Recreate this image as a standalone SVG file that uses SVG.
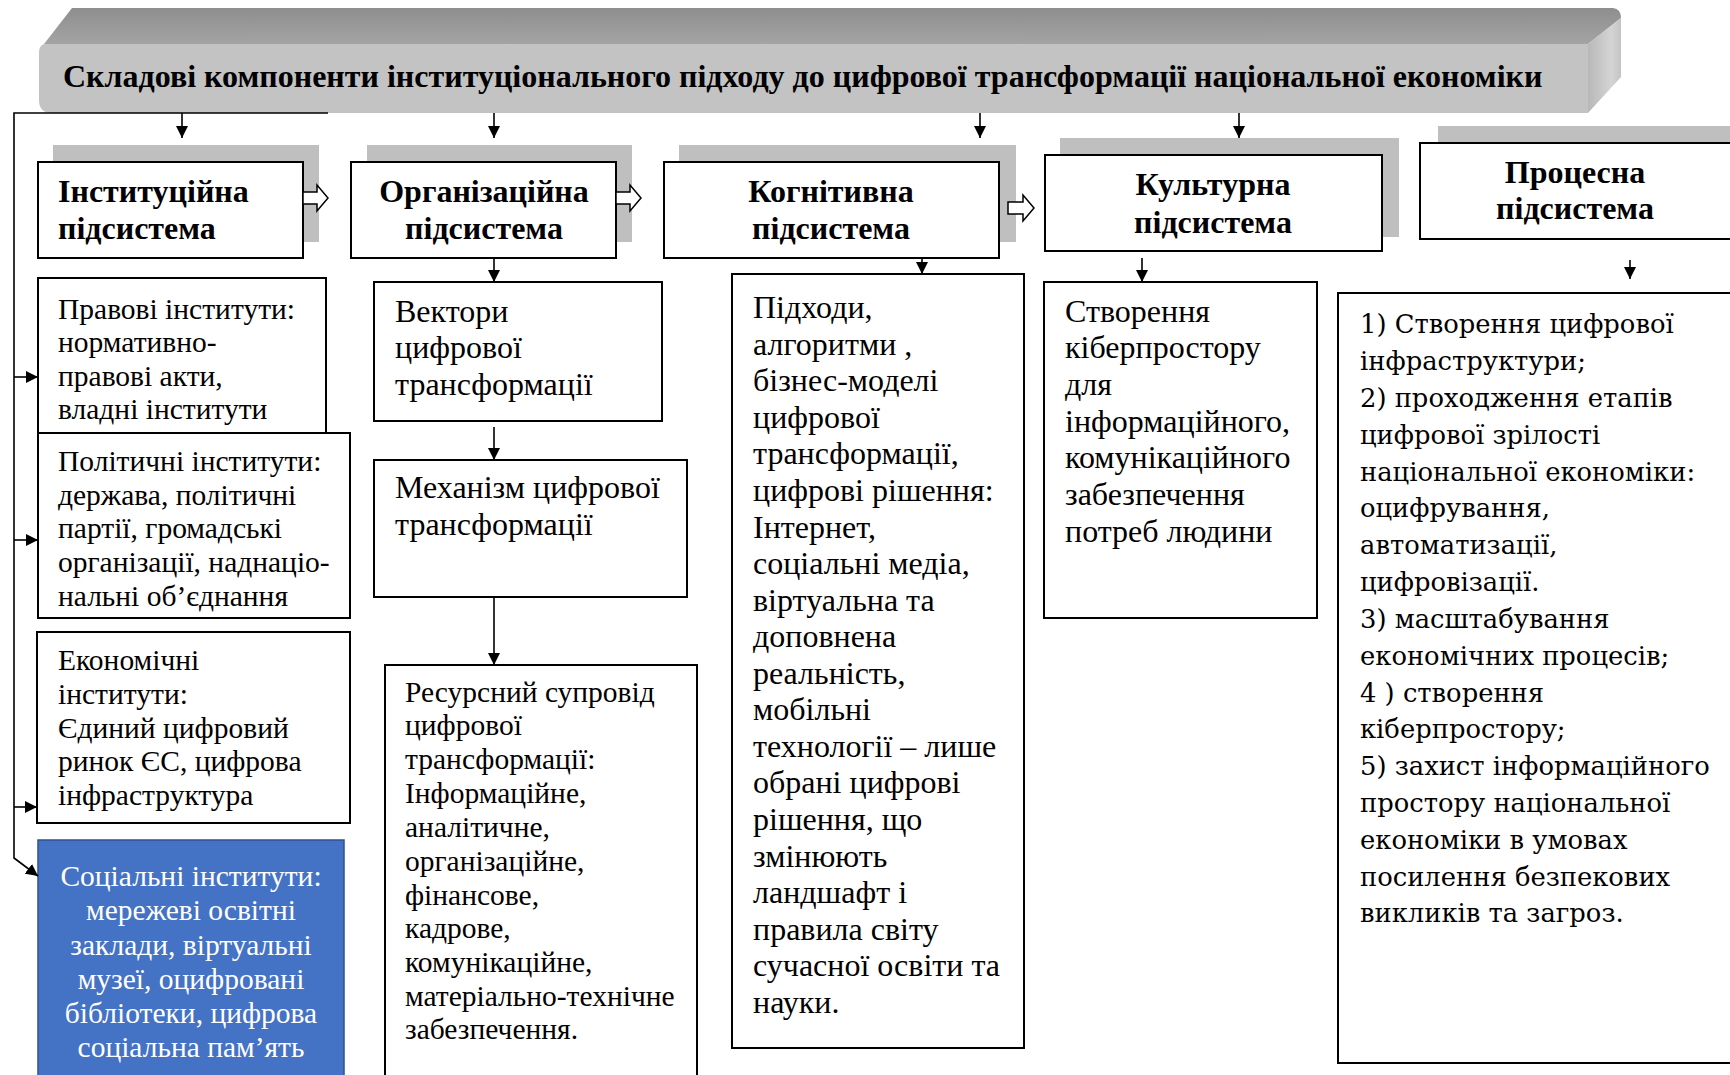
<svg xmlns="http://www.w3.org/2000/svg" width="1730" height="1075" viewBox="0 0 1730 1075">
  <defs>
    <marker id="ah" viewBox="0 0 12 12" refX="12" refY="6" markerWidth="12" markerHeight="12" markerUnits="userSpaceOnUse" orient="auto">
      <path d="M0,0 L12,6 L0,12 z" fill="#000"/>
    </marker>
    <linearGradient id="topFace" x1="0" y1="0" x2="0" y2="1">
      <stop offset="0" stop-color="#8e8e8e"/>
      <stop offset="1" stop-color="#a4a4a4"/>
    </linearGradient>
    <linearGradient id="sideFace" x1="0" y1="0" x2="1" y2="0">
      <stop offset="0" stop-color="#b8b8b8"/>
      <stop offset="0.7" stop-color="#d4d4d4"/>
      <stop offset="1" stop-color="#c4c4c4"/>
    </linearGradient>
    <style>
      .box { fill: #fff; stroke: #000; stroke-width: 2; }
      .shadow { fill: #bfbfbf; stroke: none; }
      .blue { fill: #4472c4; stroke: #2f528f; stroke-width: 1.5; }
      .hollow { fill: #fff; stroke: #000; stroke-width: 1.5; stroke-linejoin: miter; }
      .conn { fill: none; stroke: #000; stroke-width: 1.6; }
      .head { font-family: "Liberation Serif", "Times New Roman", serif; font-weight: bold; font-size: 32px; fill: #000; }
      .title { font-family: "Liberation Serif", "Times New Roman", serif; font-weight: bold; font-size: 32px; fill: #000; }
      .body { font-family: "Liberation Serif", "Times New Roman", serif; font-size: 29.5px; fill: #000; }
      .large { font-size: 32px; }
      .white { fill: #fff; }
      .wide { font-family: "DejaVu Serif", "Liberation Serif", serif; font-size: 25.8px; fill: #000; }
    </style>
  </defs>

  <rect width="1730" height="1075" fill="#fff"/>

  <!-- 3D title banner -->
  <g id="title-banner">
    <path d="M44,44 L72,8 L1613,8 Q1621,9 1621,18 L1588,44 Z" fill="url(#topFace)"/>
    <path d="M1588,44 L1621,18 L1621,77 L1588,113 Z" fill="url(#sideFace)"/>
    <path d="M44,44 L1588,44 L1588,113 L52,113 Q39,113 39,100 L39,52 Q39,46 44,44 Z" fill="#c3c3c3"/>
    <text class="title" x="63" y="87">Складові компоненти інституціонального підходу до цифрової трансформації національної економіки</text>
  </g>

  <!-- Subsystem headers -->
  <g id="inst-subsystem">
    <rect class="shadow" x="53" y="145" width="266" height="97"/>
    <rect class="box" x="38" y="162" width="265" height="96"/>
    <text class="head" x="58" y="202">Інституційна</text>
    <text class="head" x="58" y="239">підсистема</text>
  </g>
  <g id="org-subsystem">
    <rect class="shadow" x="367" y="145" width="265" height="97"/>
    <rect class="box" x="351" y="162" width="265" height="96"/>
    <text class="head" x="484" y="202" text-anchor="middle">Організаційна</text>
    <text class="head" x="484" y="239" text-anchor="middle">підсистема</text>
  </g>
  <g id="cog-subsystem">
    <rect class="shadow" x="679" y="145" width="337" height="97"/>
    <rect class="box" x="664" y="162" width="335" height="96"/>
    <text class="head" x="831" y="202" text-anchor="middle">Когнітивна</text>
    <text class="head" x="831" y="239" text-anchor="middle">підсистема</text>
  </g>
  <g id="cult-subsystem">
    <rect class="shadow" x="1060" y="138" width="339" height="99"/>
    <rect class="box" x="1045" y="155" width="337" height="96"/>
    <text class="head" x="1213" y="195" text-anchor="middle">Культурна</text>
    <text class="head" x="1213" y="233" text-anchor="middle">підсистема</text>
  </g>
  <g id="proc-subsystem">
    <rect class="shadow" x="1438" y="126" width="300" height="98"/>
    <rect class="box" x="1420" y="143" width="320" height="96"/>
    <text class="head" x="1575" y="183" text-anchor="middle">Процесна</text>
    <text class="head" x="1575" y="219" text-anchor="middle">підсистема</text>
  </g>

  <!-- Institutional column -->
  <g id="legal">
    <rect class="box" x="38" y="278" width="288" height="155"/>
    <text class="body" x="58" y="319">Правові інститути:</text>
    <text class="body" x="58" y="352">нормативно-</text>
    <text class="body" x="58" y="386">правові акти,</text>
    <text class="body" x="58" y="419">владні інститути</text>
  </g>
  <g id="political">
    <rect class="box" x="38" y="433" width="312" height="185"/>
    <text class="body" x="58" y="471">Політичні інститути:</text>
    <text class="body" x="58" y="505">держава, політичні</text>
    <text class="body" x="58" y="538">партії, громадські</text>
    <text class="body" x="58" y="572">організації, наднаціо-</text>
    <text class="body" x="58" y="606">нальні об’єднання</text>
  </g>
  <g id="economic">
    <rect class="box" x="37" y="632" width="313" height="191"/>
    <text class="body" x="58" y="670">Економічні</text>
    <text class="body" x="58" y="704">інститути:</text>
    <text class="body" x="58" y="738">Єдиний цифровий</text>
    <text class="body" x="58" y="771">ринок ЄС, цифрова</text>
    <text class="body" x="58" y="805">інфраструктура</text>
  </g>
  <g id="social">
    <rect class="blue" x="38" y="840" width="306" height="245"/>
    <text class="body white" x="191" y="886" text-anchor="middle">Соціальні інститути:</text>
    <text class="body white" x="191" y="920" text-anchor="middle">мережеві освітні</text>
    <text class="body white" x="191" y="955" text-anchor="middle">заклади, віртуальні</text>
    <text class="body white" x="191" y="989" text-anchor="middle">музеї, оцифровані</text>
    <text class="body white" x="191" y="1023" text-anchor="middle">бібліотеки, цифрова</text>
    <text class="body white" x="191" y="1057" text-anchor="middle">соціальна пам’ять</text>
  </g>

  <!-- Organisational column -->
  <g id="vectors">
    <rect class="box" x="374" y="282" width="288" height="139"/>
    <text class="body large" x="395" y="322">Вектори</text>
    <text class="body large" x="395" y="358">цифрової</text>
    <text class="body large" x="395" y="395">трансформації</text>
  </g>
  <g id="mechanism">
    <rect class="box" x="374" y="460" width="313" height="137"/>
    <text class="body large" x="395" y="498">Механізм цифрової</text>
    <text class="body large" x="395" y="535">трансформації</text>
  </g>
  <g id="resources">
    <rect class="box" x="385" y="665" width="312" height="420"/>
    <text class="body" x="405" y="702">Ресурсний супровід</text>
    <text class="body" x="405" y="735">цифрової</text>
    <text class="body" x="405" y="769">трансформації:</text>
    <text class="body" x="405" y="803">Інформаційне,</text>
    <text class="body" x="405" y="837">аналітичне,</text>
    <text class="body" x="405" y="871">організаційне,</text>
    <text class="body" x="405" y="905">фінансове,</text>
    <text class="body" x="405" y="938">кадрове,</text>
    <text class="body" x="405" y="972">комунікаційне,</text>
    <text class="body" x="405" y="1006">матеріально-технічне</text>
    <text class="body" x="405" y="1039">забезпечення.</text>
  </g>

  <!-- Cognitive column -->
  <g id="approaches">
    <rect class="box" x="732" y="274" width="292" height="774"/>
    <text class="body large" x="753" y="318">Підходи,</text>
    <text class="body large" x="753" y="355">алгоритми ,</text>
    <text class="body large" x="753" y="391">бізнес-моделі</text>
    <text class="body large" x="753" y="428">цифрової</text>
    <text class="body large" x="753" y="464">трансформації,</text>
    <text class="body large" x="753" y="501">цифрові рішення:</text>
    <text class="body large" x="753" y="538">Інтернет,</text>
    <text class="body large" x="753" y="574">соціальні медіа,</text>
    <text class="body large" x="753" y="611">віртуальна та</text>
    <text class="body large" x="753" y="647">доповнена</text>
    <text class="body large" x="753" y="684">реальність,</text>
    <text class="body large" x="753" y="720">мобільні</text>
    <text class="body large" x="753" y="757">технології – лише</text>
    <text class="body large" x="753" y="793">обрані цифрові</text>
    <text class="body large" x="753" y="830">рішення, що</text>
    <text class="body large" x="753" y="867">змінюють</text>
    <text class="body large" x="753" y="903">ландшафт і</text>
    <text class="body large" x="753" y="940">правила світу</text>
    <text class="body large" x="753" y="976">сучасної освіти та</text>
    <text class="body large" x="753" y="1013">науки.</text>
  </g>

  <!-- Cultural column -->
  <g id="cyberspace">
    <rect class="box" x="1044" y="282" width="273" height="336"/>
    <text class="body large" x="1065" y="322">Створення</text>
    <text class="body large" x="1065" y="358">кіберпростору</text>
    <text class="body large" x="1065" y="395">для</text>
    <text class="body large" x="1065" y="432">інформаційного,</text>
    <text class="body large" x="1065" y="468">комунікаційного</text>
    <text class="body large" x="1065" y="505">забезпечення</text>
    <text class="body large" x="1065" y="542">потреб людини</text>
  </g>

  <!-- Process column -->
  <g id="process-steps">
    <rect class="box" x="1338" y="293" width="400" height="770"/>
    <text class="wide" x="1360" y="333">1) Створення цифрової</text>
    <text class="wide" x="1360" y="370">інфраструктури;</text>
    <text class="wide" x="1360" y="407">2) проходження етапів</text>
    <text class="wide" x="1360" y="444">цифрової зрілості</text>
    <text class="wide" x="1360" y="481">національної економіки:</text>
    <text class="wide" x="1360" y="517">оцифрування,</text>
    <text class="wide" x="1360" y="554">автоматизації,</text>
    <text class="wide" x="1360" y="591">цифровізації.</text>
    <text class="wide" x="1360" y="628">3) масштабування</text>
    <text class="wide" x="1360" y="665">економічних процесів;</text>
    <text class="wide" x="1360" y="702">4 ) створення</text>
    <text class="wide" x="1360" y="738">кіберпростору;</text>
    <text class="wide" x="1360" y="775">5) захист інформаційного</text>
    <text class="wide" x="1360" y="812">простору національної</text>
    <text class="wide" x="1360" y="849">економіки в умовах</text>
    <text class="wide" x="1360" y="886">посилення безпекових</text>
    <text class="wide" x="1360" y="922">викликів та загроз.</text>
  </g>

  <!-- Connectors -->
  <g id="connectors">
    <!-- banner to subsystems -->
    <line class="conn" x1="182" y1="113" x2="182" y2="138" marker-end="url(#ah)"/>
    <line class="conn" x1="494" y1="113" x2="494" y2="138" marker-end="url(#ah)"/>
    <line class="conn" x1="980" y1="113" x2="980" y2="138" marker-end="url(#ah)"/>
    <line class="conn" x1="1239" y1="113" x2="1239" y2="138" marker-end="url(#ah)"/>

    <!-- left feed line -->
    <polyline class="conn" points="328,113 14,113 14,858 38,876" marker-end="url(#ah)"/>
    <line class="conn" x1="14" y1="377" x2="38" y2="377" marker-end="url(#ah)"/>
    <line class="conn" x1="14" y1="540" x2="38" y2="540" marker-end="url(#ah)"/>
    <line class="conn" x1="14" y1="807" x2="37" y2="807" marker-end="url(#ah)"/>

    <!-- organisational chain -->
    <line class="conn" x1="494" y1="258" x2="494" y2="282" marker-end="url(#ah)"/>
    <line class="conn" x1="494" y1="427" x2="494" y2="460" marker-end="url(#ah)"/>
    <line class="conn" x1="494" y1="597" x2="494" y2="665" marker-end="url(#ah)"/>

    <!-- cognitive, cultural, process -->
    <line class="conn" x1="922" y1="258" x2="922" y2="274" marker-end="url(#ah)"/>
    <line class="conn" x1="1142" y1="258" x2="1142" y2="282" marker-end="url(#ah)"/>
    <line class="conn" x1="1630" y1="260" x2="1630" y2="279" marker-end="url(#ah)"/>

    <!-- hollow block arrows between subsystems -->
    <path class="hollow" d="M303,192 L317,192 L317,185 L328,198 L317,211 L317,204 L303,204 Z"/>
    <path class="hollow" d="M616,192 L630,192 L630,185 L641,198 L630,211 L630,204 L616,204 Z"/>
    <path class="hollow" d="M1008,202 L1023,202 L1023,195 L1034,208 L1023,221 L1023,214 L1008,214 Z"/>
  </g>
</svg>
